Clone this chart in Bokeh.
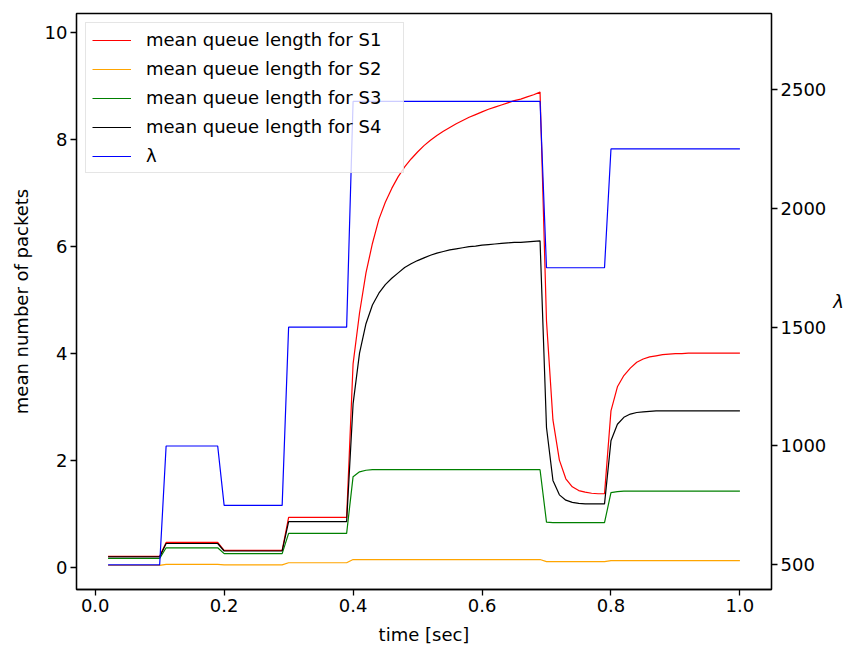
from bokeh.plotting import figure
from bokeh.models import Range1d, LinearAxis, FixedTicker, PrintfTickFormatter, Legend, LegendItem
from bokeh.embed import file_html
from bokeh.resources import INLINE

# time samples [sec]
t = [0.02, 0.03, 0.04, 0.05, 0.06, 0.07, 0.08, 0.09, 0.10,
     0.11, 0.12, 0.13, 0.14, 0.15, 0.16, 0.17, 0.18, 0.19,
     0.20, 0.21, 0.22, 0.23, 0.24, 0.25, 0.26, 0.27, 0.28, 0.29,
     0.30, 0.31, 0.32, 0.33, 0.34, 0.35, 0.36, 0.37, 0.38, 0.39,
     0.40, 0.41, 0.42, 0.43, 0.44, 0.45, 0.46, 0.47, 0.48, 0.49,
     0.50, 0.51, 0.52, 0.53, 0.54, 0.55, 0.56, 0.57, 0.58, 0.59,
     0.60, 0.61, 0.62, 0.63, 0.64, 0.65, 0.66, 0.67, 0.68, 0.69,
     0.70, 0.71, 0.72, 0.73, 0.74, 0.75, 0.76, 0.77, 0.78, 0.79,
     0.80, 0.81, 0.82, 0.83, 0.84, 0.85, 0.86, 0.87, 0.88, 0.89,
     0.90, 0.91, 0.92, 0.93, 0.94, 0.95, 0.96, 0.97, 0.98, 0.99, 1.00]

lam = ([500] * 9 + [1000] * 9 + [750] * 10 + [1500] * 10 + [2450] * 30
       + [1750] * 10 + [2250] * 21)

s1 = ([0.20] * 9 + [0.46] * 9 + [0.31] * 10 + [0.93] * 10
      + [3.80, 4.75, 5.50, 6.05, 6.50, 6.82, 7.08, 7.30, 7.48, 7.63,
         7.76, 7.88, 7.98, 8.07, 8.15, 8.22, 8.29, 8.35, 8.41, 8.46,
         8.51, 8.56, 8.60, 8.64, 8.68, 8.72, 8.75, 8.79, 8.83, 8.88]
      + [4.60, 2.75, 2.00, 1.65, 1.50, 1.43, 1.40, 1.38, 1.37, 1.37]
      + [2.92, 3.37, 3.58, 3.72, 3.83, 3.89, 3.93, 3.95, 3.97, 3.98,
         3.99, 3.99, 4.00, 4.00, 4.00, 4.00, 4.00, 4.00, 4.00, 4.00, 4.00])

s2 = ([0.03] * 9 + [0.05] * 9 + [0.04] * 10 + [0.08] * 10 + [0.14] * 30
      + [0.10] * 10 + [0.12] * 21)

s3 = ([0.16] * 9 + [0.36] * 9 + [0.25] * 10 + [0.63] * 10
      + [1.69, 1.78, 1.81] + [1.82] * 27
      + [0.84] + [0.83] * 9
      + [1.39, 1.41] + [1.42] * 19)

s4 = ([0.19] * 9 + [0.44] * 9 + [0.30] * 10 + [0.85] * 10
      + [3.05, 4.00, 4.55, 4.90, 5.12, 5.28, 5.40, 5.50, 5.60, 5.67,
         5.73, 5.78, 5.83, 5.87, 5.90, 5.93, 5.95, 5.97, 5.99, 6.00,
         6.02, 6.03, 6.04, 6.05, 6.06, 6.07, 6.07, 6.08, 6.09, 6.10]
      + [2.61, 1.62, 1.35, 1.25, 1.21, 1.19, 1.18, 1.18, 1.18, 1.18]
      + [2.36, 2.67, 2.80, 2.86, 2.89, 2.90, 2.91] + [2.92] * 14)

labels = ["mean queue length for S1", "mean queue length for S2",
          "mean queue length for S3", "mean queue length for S4", "λ"]
colors = ["red", "orange", "green", "black", "blue"]
x_ticks = [0.0, 0.2, 0.4, 0.6, 0.8, 1.0]
y_ticks = [0, 2, 4, 6, 8, 10]
lam_ticks = [500, 1000, 1500, 2000, 2500]

FONT = "DejaVu Sans"
FS = "18px"

p = figure(width=848, height=650, output_backend="svg", toolbar_location=None,
           x_range=Range1d(-0.029, 1.049), y_range=Range1d(-0.42, 10.35),
           min_border_left=76, min_border_right=77, min_border_top=13,
           min_border_bottom=61)
p.extra_y_ranges = {"lam": Range1d(396, 2820)}
p.grid.visible = False
p.outline_line_color = "black"
p.outline_line_width = 1.3
p.background_fill_color = "white"
p.border_fill_color = "white"

renderers = []
for ys, c in zip([s1, s2, s3, s4], colors[:4]):
    renderers.append(p.line(t, ys, line_color=c, line_width=1.2))
renderers.append(p.line(t, lam, line_color=colors[4], line_width=1.2, y_range_name="lam"))

rax = LinearAxis(y_range_name="lam")
p.add_layout(rax, "right")

for ax in [p.xaxis[0], p.yaxis[0], rax]:
    ax.major_tick_out = 6
    ax.major_tick_in = 0
    ax.minor_tick_line_color = None
    ax.major_tick_line_width = 1.3
    ax.axis_line_width = 1.3
    ax.major_label_text_font = FONT
    ax.major_label_text_font_size = FS
    ax.major_label_text_color = "black"
    ax.axis_label_text_font = FONT
    ax.axis_label_text_font_size = FS
    ax.axis_label_text_font_style = "normal"
    ax.axis_label_text_color = "black"
    ax.major_label_standoff = 3

p.xaxis[0].ticker = FixedTicker(ticks=x_ticks)
p.xaxis[0].formatter = PrintfTickFormatter(format="%.1f")
p.xaxis[0].axis_label = "time [sec]"
p.xaxis[0].axis_label_standoff = 9
p.yaxis[0].ticker = FixedTicker(ticks=y_ticks)
p.yaxis[0].formatter = PrintfTickFormatter(format="%d")
p.yaxis[0].axis_label = "mean number of packets"
p.yaxis[0].axis_label_standoff = 10
rax.ticker = FixedTicker(ticks=lam_ticks)
rax.formatter = PrintfTickFormatter(format="%d")
rax.axis_label = "λ"
rax.axis_label_text_font_style = "italic"
rax.axis_label_orientation = "horizontal"
rax.axis_label_standoff = 4

legend = Legend(items=[LegendItem(label=l, renderers=[r]) for l, r in zip(labels, renderers)],
                location="top_left")
legend.margin = 9
legend.padding = 6
legend.spacing = 8
legend.glyph_width = 39
legend.glyph_height = 20
legend.label_height = 20
legend.label_width = 251
legend.label_standoff = 15
legend.label_text_font = FONT
legend.label_text_font_size = FS
legend.label_text_color = "black"
legend.border_line_color = "#cccccc"
legend.border_line_width = 1
legend.background_fill_alpha = 0.8
p.add_layout(legend)

open("out.html", "w").write(file_html(p, INLINE))
